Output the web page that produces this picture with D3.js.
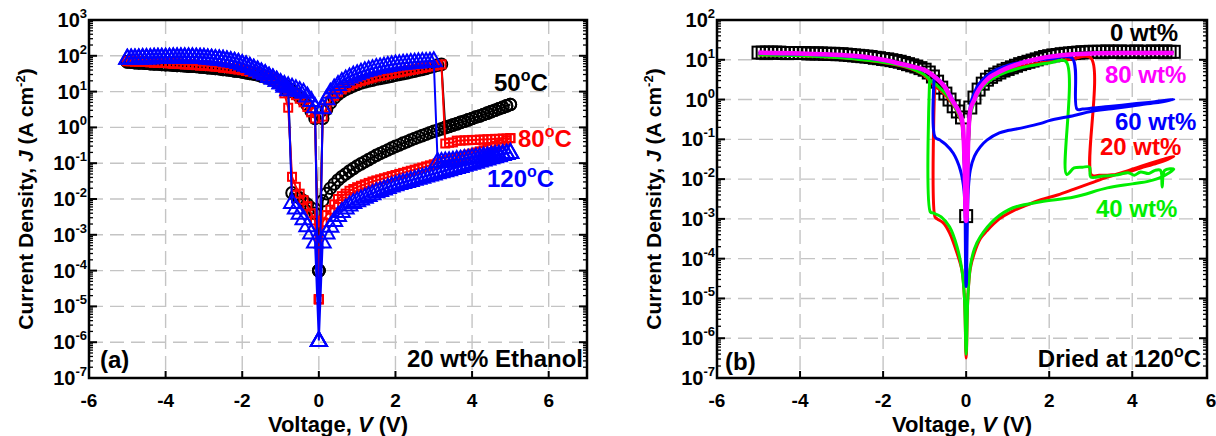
<!DOCTYPE html>
<html>
<head>
<meta charset="utf-8">
<script src="https://cdn.jsdelivr.net/npm/d3@7/dist/d3.min.js"></script>
<style>
    html, body { margin: 0; padding: 0; background: #fff; }
    svg { display: block; font-family: "Liberation Sans", Arial, sans-serif; font-weight: bold; }
</style>
</head>
<body>
<svg id="chart" width="1216" height="436"></svg>
<script>
// ---------- Panel (a): 20 wt% ethanol, log10 J (A cm-2) on a 0.1 V sweep grid ----------
// sweep order: 0 -> +5, +5 -> 0, 0 -> -5, -5 -> 0
const b50FwdPos = [-4.0, 0.25, 0.5, 0.68, 0.82, 0.92, 1.0, 1.06, 1.11, 1.16,
    1.2, 1.24, 1.27, 1.3, 1.32, 1.35, 1.37, 1.39, 1.41, 1.43,
    1.46, 1.48, 1.5, 1.52, 1.55, 1.57, 1.6, 1.62, 1.65, 1.68,
    1.71, 1.74, 1.76, 0.0, 0.03, 0.07, 0.1, 0.14, 0.17, 0.21,
    0.25, 0.29, 0.32, 0.36, 0.4, 0.44, 0.48, 0.52, 0.56, 0.6, 0.64];
const b50BwdPos = [0.64, 0.6, 0.56, 0.52, 0.48, 0.44, 0.4, 0.36, 0.32, 0.29,
    0.25, 0.21, 0.17, 0.14, 0.1, 0.06, 0.03, -0.01, -0.04, -0.08,
    -0.11, -0.15, -0.19, -0.23, -0.27, -0.31, -0.35, -0.4, -0.44, -0.49,
    -0.53, -0.58, -0.63, -0.68, -0.73, -0.78, -0.84, -0.9, -0.96, -1.02,
    -1.08, -1.15, -1.22, -1.3, -1.38, -1.47, -1.58, -1.7, -1.85, -2.05, -4.0];
const b50FwdNeg = [-4.0, -2.4, -2.25, -2.15, -2.05, -1.97, -1.9, -1.83, 1.0, 1.15,
    1.25, 1.3, 1.34, 1.38, 1.41, 1.44, 1.47, 1.49, 1.51, 1.53,
    1.55, 1.57, 1.58, 1.6, 1.61, 1.62, 1.64, 1.65, 1.66, 1.67,
    1.68, 1.69, 1.7, 1.71, 1.71, 1.72, 1.73, 1.73, 1.74, 1.75,
    1.75, 1.76, 1.77, 1.77, 1.78, 1.79, 1.8, 1.8, 1.81, 1.82, 1.83];
const b50BwdNeg = [1.83, 1.82, 1.81, 1.8, 1.8, 1.79, 1.78, 1.77, 1.77, 1.76,
    1.75, 1.75, 1.74, 1.73, 1.73, 1.72, 1.71, 1.71, 1.7, 1.69,
    1.68, 1.67, 1.66, 1.65, 1.64, 1.62, 1.61, 1.6, 1.58, 1.57,
    1.55, 1.53, 1.51, 1.49, 1.47, 1.44, 1.41, 1.38, 1.34, 1.3,
    1.25, 1.18, 1.1, 1.02, 0.94, 0.85, 0.75, 0.62, 0.45, 0.25, -4.0];

const r80FwdPos = [-4.8, 0.3, 0.55, 0.75, 0.88, 0.98, 1.06, 1.12, 1.17, 1.22,
    1.26, 1.3, 1.33, 1.36, 1.39, 1.42, 1.44, 1.46, 1.48, 1.5,
    1.52, 1.54, 1.56, 1.58, 1.6, 1.62, 1.64, 1.66, 1.68, 1.7,
    1.72, 1.74, 1.76, -0.45, -0.43, -0.42, -0.37, -0.37, -0.36, -0.36,
    -0.35, -0.35, -0.34, -0.34, -0.33, -0.33, -0.32, -0.32, -0.31, -0.31, -0.3];
const r80BwdPos = [-0.3, -0.36, -0.42, -0.47, -0.52, -0.56, -0.6, -0.64, -0.67, -0.7,
    -0.73, -0.76, -0.79, -0.82, -0.85, -0.88, -0.91, -0.94, -0.97, -1.0,
    -1.03, -1.06, -1.09, -1.12, -1.15, -1.18, -1.21, -1.24, -1.27, -1.3,
    -1.33, -1.36, -1.39, -1.42, -1.45, -1.48, -1.51, -1.55, -1.59, -1.63,
    -1.67, -1.72, -1.77, -1.85, -1.92, -2.0, -2.15, -2.3, -2.45, -2.65, -4.8];
const r80FwdNeg = [-4.8, -2.6, -2.4, -2.2, -2.03, -1.85, -1.66, -1.38, 0.55, 0.95,
    1.2, 1.28, 1.34, 1.39, 1.44, 1.48, 1.51, 1.54, 1.56, 1.58,
    1.6, 1.62, 1.63, 1.65, 1.66, 1.67, 1.69, 1.7, 1.71, 1.72,
    1.73, 1.73, 1.74, 1.75, 1.76, 1.76, 1.77, 1.78, 1.78, 1.79,
    1.8, 1.8, 1.81, 1.81, 1.82, 1.83, 1.83, 1.84, 1.84, 1.85, 1.85];
const r80BwdNeg = [1.85, 1.85, 1.84, 1.84, 1.83, 1.83, 1.82, 1.81, 1.81, 1.8,
    1.8, 1.79, 1.78, 1.78, 1.77, 1.76, 1.76, 1.75, 1.74, 1.73,
    1.73, 1.72, 1.71, 1.7, 1.69, 1.67, 1.66, 1.65, 1.63, 1.62,
    1.6, 1.58, 1.56, 1.54, 1.51, 1.48, 1.44, 1.39, 1.34, 1.28,
    1.2, 1.12, 1.05, 0.98, 0.9, 0.8, 0.7, 0.57, 0.42, 0.25, -4.8];

const bl120FwdPos = [-5.95, 0.55, 0.8, 0.98, 1.1, 1.2, 1.28, 1.35, 1.41, 1.46,
    1.5, 1.54, 1.58, 1.61, 1.64, 1.67, 1.69, 1.71, 1.73, 1.75,
    1.77, 1.78, 1.79, 1.8, 1.81, 1.82, 1.83, 1.84, 1.84, 1.85,
    1.86, -0.95, -0.95, -0.94, -0.93, -0.92, -0.9, -0.89, -0.87, -0.86,
    -0.84, -0.83, -0.81, -0.8, -0.79, -0.77, -0.76, -0.75, -0.73, -0.72, -0.7];
const bl120BwdPos = [-0.7, -0.73, -0.76, -0.79, -0.82, -0.85, -0.88, -0.91, -0.94, -0.97,
    -1.0, -1.03, -1.06, -1.09, -1.12, -1.15, -1.18, -1.21, -1.24, -1.27,
    -1.3, -1.33, -1.36, -1.39, -1.42, -1.45, -1.48, -1.51, -1.54, -1.57,
    -1.6, -1.64, -1.68, -1.72, -1.76, -1.8, -1.85, -1.9, -1.95, -2.0,
    -2.05, -2.1, -2.17, -2.25, -2.35, -2.46, -2.6, -2.76, -2.95, -3.2, -5.95];
const bl120FwdNeg = [-5.95, -3.2, -2.95, -2.75, -2.55, -2.4, -2.25, -2.1, 1.05, 1.15,
    1.25, 1.32, 1.38, 1.43, 1.5, 1.55, 1.6, 1.65, 1.7, 1.74,
    1.78, 1.81, 1.84, 1.86, 1.88, 1.9, 1.91, 1.92, 1.93, 1.94,
    1.95, 1.95, 1.96, 1.96, 1.96, 1.96, 1.96, 1.96, 1.96, 1.96,
    1.95, 1.95, 1.95, 1.95, 1.94, 1.94, 1.94, 1.94, 1.93, 1.93, 1.93];
const bl120BwdNeg = [1.93, 1.94, 1.94, 1.94, 1.95, 1.95, 1.95, 1.96, 1.96, 1.96,
    1.96, 1.96, 1.97, 1.97, 1.97, 1.97, 1.97, 1.97, 1.96, 1.96,
    1.95, 1.94, 1.93, 1.92, 1.91, 1.9, 1.88, 1.86, 1.84, 1.81,
    1.78, 1.74, 1.7, 1.65, 1.6, 1.55, 1.5, 1.43, 1.38, 1.32,
    1.25, 1.2, 1.16, 1.12, 1.08, 1.03, 0.98, 0.88, 0.75, 0.58, -5.95];

// ---------- Panel (b): dried at 120 C ----------
// 0 wt% (squares), log10 J on the 0.1 V grid, from 0 V outwards
const wt0Pos = [-2.93, -0.2, 0.05, 0.25, 0.4, 0.5, 0.57, 0.63, 0.68, 0.73,
    0.77, 0.81, 0.85, 0.89, 0.92, 0.95, 0.98, 1.01, 1.04, 1.07,
    1.09, 1.11, 1.12, 1.14, 1.15, 1.16, 1.17, 1.18, 1.19, 1.19,
    1.2, 1.2, 1.2, 1.2, 1.21, 1.2, 1.2, 1.21, 1.2, 1.2,
    1.2, 1.21, 1.2, 1.2, 1.2, 1.21, 1.2, 1.2, 1.21, 1.2, 1.2];
const wt0Neg = [-2.93, -0.45, -0.3, -0.17, 0.0, 0.15, 0.3, 0.45, 0.58, 0.68,
    0.75, 0.79, 0.83, 0.86, 0.89, 0.92, 0.95, 0.97, 0.99, 1.01,
    1.02, 1.04, 1.05, 1.07, 1.08, 1.09, 1.1, 1.11, 1.12, 1.13,
    1.14, 1.14, 1.15, 1.15, 1.15, 1.16, 1.16, 1.16, 1.16, 1.17,
    1.17, 1.17, 1.17, 1.17, 1.17, 1.18, 1.18, 1.18, 1.18, 1.18, 1.18];

// line-only series, points read along the sweep
const wt20V = [-5, -4, -3, -2.5, -2, -1.5, -1.2, -1.0, -0.85, -0.75, -0.6, -0.45, -0.3, -0.2, -0.1, 0,
    0.1, 0.2, 0.3, 0.5, 0.7, 1.0, 1.5, 2.0, 2.5, 3.0, 3.02, 3.2, 3.4, 3.8, 4.2, 4.6, 5.0,
    4.6, 4.2, 3.8, 3.4, 3.0, 2.6, 2.2, 1.8, 1.4, 1.13, 0.8, 0.5, 0.34, 0.2, 0.1, 0.04, 0,
    -0.04, -0.1, -0.22, -0.4, -0.55, -0.7, -0.75, -0.76];
const wt20J = [1.12, 1.1, 1.05, 1.0, 0.93, 0.83, 0.72, 0.6, 0.45, 0.33, 0.22, 0.05, -0.15, -0.35, -0.62, -3.0,
    -0.35, 0.0, 0.22, 0.45, 0.58, 0.72, 0.87, 0.96, 1.01, 1.05, -1.9, -1.9, -1.9, -1.85, -1.72, -1.6, -1.43,
    -1.55, -1.68, -1.82, -1.95, -2.1, -2.25, -2.4, -2.52, -2.68, -2.8, -3.0, -3.3, -3.5, -3.85, -4.25, -5.0, -6.5,
    -5.0, -4.3, -3.86, -3.35, -3.1, -3.0, -2.95, 0.33];

const wt40V = [-5, -4, -3, -2.5, -2, -1.5, -1.2, -1.0, -0.88, -0.7, -0.5, -0.35, -0.2, -0.1, 0,
    0.1, 0.2, 0.3, 0.5, 0.7, 1.0, 1.5, 2.0, 2.4, 2.42, 2.6, 2.8, 2.97, 3.0, 3.3, 3.6, 3.9, 4.05, 4.2, 4.4,
    4.55, 4.68, 4.72, 4.78, 5.0, 4.7, 4.4, 4.0, 3.4, 2.6, 1.8, 1.13, 0.7, 0.34, 0.2, 0.1, 0.04, 0,
    -0.04, -0.1, -0.22, -0.4, -0.6, -0.8, -0.86, -0.88];
const wt40J = [1.12, 1.1, 1.05, 1.0, 0.94, 0.84, 0.73, 0.62, 0.5, 0.35, 0.15, -0.05, -0.33, -0.6, -3.0,
    -0.4, -0.05, 0.18, 0.42, 0.56, 0.7, 0.84, 0.92, 0.96, -1.88, -1.72, -1.7, -1.7, -1.95, -1.92, -1.9, -1.84, -1.9, -1.82, -1.86,
    -1.78, -1.78, -2.2, -1.78, -1.75, -1.95, -2.05, -2.12, -2.22, -2.45, -2.57, -2.72, -3.0, -3.45, -3.75, -4.2, -5.0, -6.4,
    -5.0, -4.3, -3.7, -3.2, -2.95, -2.85, -2.83, 0.5];

const wt60V = [-5, -4, -3, -2.5, -2, -1.5, -1.2, -1.0, -0.8, -0.6, -0.4, -0.3, -0.2, -0.1, 0,
    0.1, 0.2, 0.3, 0.5, 0.7, 1.0, 1.5, 2.0, 2.55, 2.67, 2.8, 3.0, 3.5, 4.0, 4.5, 5.0,
    4.5, 4.0, 3.5, 3.0, 2.6, 2.0, 1.8, 1.4, 1.0, 0.8, 0.5, 0.34, 0.2, 0.1, 0.05, 0,
    -0.05, -0.14, -0.31, -0.5, -0.63, -0.75, -0.77];
const wt60J = [1.16, 1.14, 1.1, 1.05, 0.99, 0.89, 0.8, 0.72, 0.62, 0.45, 0.15, -0.05, -0.25, -0.55, -4.7,
    -0.15, 0.18, 0.38, 0.6, 0.74, 0.86, 0.97, 1.02, 1.04, -0.24, -0.24, -0.22, -0.17, -0.11, -0.06, 0.0,
    -0.09, -0.16, -0.23, -0.3, -0.4, -0.53, -0.6, -0.7, -0.78, -0.84, -1.02, -1.19, -1.42, -1.77, -2.3, -4.7,
    -2.3, -1.77, -1.35, -1.12, -1.02, -0.94, 0.55];

const wt80V = [-5, -4, -3, -2.5, -2, -1.5, -1.0, -0.7, -0.5, -0.4, -0.3, -0.2, -0.1, 0,
    0.1, 0.2, 0.26, 0.4, 0.58, 0.8, 1.06, 1.4, 1.8, 2.5, 3.0, 4.0, 5.0];
const wt80J = [1.18, 1.16, 1.12, 1.08, 1.0, 0.88, 0.74, 0.52, 0.3, 0.1, -0.08, -0.25, -0.5, -3.05,
    -0.26, 0.0, 0.16, 0.38, 0.57, 0.7, 0.82, 0.94, 1.04, 1.13, 1.16, 1.17, 1.17];

const xTickValues = [-6, -4, -2, 0, 2, 4, 6];

// ---------- helpers ----------
const svg = d3.select('#chart');

// 0.1 V measurement grid between two end voltages (51 steps)
function sweep(from, to) {
    return d3.range(51).map(i => +(from + (to - from) * i / 50).toFixed(2));
}

function toPoints(vs, js) {
    return vs.map((v, i) => ({v: v, j: Math.pow(10, js[i])}));
}

function drawPanel(cfg) {
    const x = d3.scaleLinear().domain(cfg.xDomain).range([cfg.left, cfg.right]);
    const y = d3.scaleLog().domain([1e-7, Math.pow(10, cfg.topExp)]).range([cfg.bottom, cfg.top]);
    const g = svg.append('g');
    const exps = d3.range(-7, cfg.topExp + 1);

    // grid
    g.selectAll('.hgrid').data(exps.slice(1, -1)).enter().append('line')
        .attr('x1', cfg.left).attr('x2', cfg.right)
        .attr('y1', d => y(Math.pow(10, d))).attr('y2', d => y(Math.pow(10, d)))
        .attr('stroke', '#c4c4c4').attr('stroke-width', 1.4).attr('stroke-dasharray', '14,7');
    g.selectAll('.vgrid').data(xTickValues.filter(d => x(d) > cfg.left + 2 && x(d) < cfg.right - 2)).enter().append('line')
        .attr('y1', cfg.top).attr('y2', cfg.bottom)
        .attr('x1', d => x(d)).attr('x2', d => x(d))
        .attr('stroke', '#c4c4c4').attr('stroke-width', 1.4).attr('stroke-dasharray', '14,7');

    // minor and major y ticks, mirrored on both sides, pointing inwards
    const minor = [];
    exps.slice(0, -1).forEach(e => d3.range(2, 10).forEach(m => minor.push(m * Math.pow(10, e))));
    [[cfg.left, 1], [cfg.right, -1]].forEach(([x0, s]) => {
        g.selectAll(null).data(minor).enter().append('line')
            .attr('x1', x0).attr('x2', x0 + s * 4)
            .attr('y1', d => y(d)).attr('y2', d => y(d))
            .attr('stroke', '#000').attr('stroke-width', 1.3);
        g.selectAll(null).data(exps).enter().append('line')
            .attr('x1', x0).attr('x2', x0 + s * 8)
            .attr('y1', d => y(Math.pow(10, d))).attr('y2', d => y(Math.pow(10, d)))
            .attr('stroke', '#000').attr('stroke-width', 2);
    });
    g.selectAll(null).data(xTickValues.filter(d => d >= cfg.xDomain[0] && d <= cfg.xDomain[1])).enter().append('line')
        .attr('x1', d => x(d)).attr('x2', d => x(d))
        .attr('y1', cfg.bottom).attr('y2', cfg.bottom - 7)
        .attr('stroke', '#000').attr('stroke-width', 2);

    // frame
    g.append('rect')
        .attr('x', cfg.left).attr('y', cfg.top)
        .attr('width', cfg.right - cfg.left).attr('height', cfg.bottom - cfg.top)
        .attr('fill', 'none').attr('stroke', '#000').attr('stroke-width', 2.5);

    // tick labels
    exps.forEach(e => {
        const t = g.append('text')
            .attr('x', cfg.left - 2).attr('y', y(Math.pow(10, e)) + 7)
            .attr('text-anchor', 'end').attr('font-size', 20);
        t.append('tspan').text('10');
        t.append('tspan').attr('dy', -9).attr('font-size', 13).text(e);
    });
    g.selectAll('.xlab').data(xTickValues).enter().append('text')
        .attr('x', d => Math.min(x(d), 1211)).attr('y', 407)
        .attr('text-anchor', 'middle').attr('font-size', 19)
        .text(d => d);

    // axis titles
    const yt = g.append('text')
        .attr('transform', `translate(${cfg.left - 56}, ${(cfg.top + cfg.bottom) / 2}) rotate(-90)`)
        .attr('text-anchor', 'middle').attr('font-size', 21);
    yt.append('tspan').text('Current Density, ');
    yt.append('tspan').attr('font-style', 'italic').text('J');
    yt.append('tspan').text(' (A cm');
    yt.append('tspan').attr('dy', -8).attr('font-size', 13).text('-2');
    yt.append('tspan').attr('dy', 8).text(')');

    const xt = g.append('text')
        .attr('x', (cfg.left + cfg.right) / 2).attr('y', 432)
        .attr('text-anchor', 'middle').attr('font-size', 22);
    xt.append('tspan').text('Voltage, ');
    xt.append('tspan').attr('font-style', 'italic').text('V');
    xt.append('tspan').text(' (V)');

    return {x: x, y: y, g: g};
}

function note(g, x, y, color, parts, anchor) {
    const t = g.append('text').attr('x', x).attr('y', y)
        .attr('fill', color).attr('font-size', 24)
        .attr('text-anchor', anchor || 'start');
    parts.forEach(p => {
        if (p.sup) {
            t.append('tspan').attr('dy', -10).attr('font-size', 16).text(p.sup);
            t.append('tspan').attr('dy', 10).text(p.after);
        } else {
            t.append('tspan').text(p.text);
        }
    });
}

const trianglePath = 'M0,-8.5L8,5.5L-8,5.5Z';

// ---------- panel (a) ----------
const pa = drawPanel({left: 89, right: 587, top: 20, bottom: 378, xDomain: [-6, 7], topExp: 3});

const leftSeries = [
    {color: '#000', shape: 'circle', branches: [b50FwdPos, b50BwdPos, b50FwdNeg, b50BwdNeg]},
    {color: '#f00', shape: 'square', branches: [r80FwdPos, r80BwdPos, r80FwdNeg, r80BwdNeg]},
    {color: '#00f', shape: 'triangle', branches: [bl120FwdPos, bl120BwdPos, bl120FwdNeg, bl120BwdNeg]}
];
const legGrids = [sweep(0, 5), sweep(5, 0), sweep(0, -5), sweep(-5, 0)];

const lineA = d3.line().x(d => pa.x(d.v)).y(d => pa.y(d.j));

leftSeries.forEach(s => {
    let pts = [];
    s.branches.forEach((b, i) => { pts = pts.concat(toPoints(legGrids[i], b)); });
    const sg = pa.g.append('g');
    sg.append('path').datum(pts)
        .attr('d', lineA).attr('fill', 'none')
        .attr('stroke', s.color).attr('stroke-width', 2);
    const m = sg.selectAll('.m').data(pts).enter();
    if (s.shape === 'circle') {
        m.append('circle').attr('cx', d => pa.x(d.v)).attr('cy', d => pa.y(d.j)).attr('r', 5.8)
            .attr('fill', 'none').attr('stroke', s.color).attr('stroke-width', 2);
    } else if (s.shape === 'square') {
        m.append('rect').attr('x', d => pa.x(d.v) - 4).attr('y', d => pa.y(d.j) - 4)
            .attr('width', 8).attr('height', 8)
            .attr('fill', 'none').attr('stroke', s.color).attr('stroke-width', 2);
    } else {
        m.append('path').attr('d', trianglePath)
            .attr('transform', d => `translate(${pa.x(d.v)},${pa.y(d.j)})`)
            .attr('fill', 'none').attr('stroke', s.color).attr('stroke-width', 2);
    }
});

note(pa.g, 494, 91, '#000', [{text: '50'}, {sup: 'o', after: 'C'}]);
note(pa.g, 518, 147, '#f00', [{text: '80'}, {sup: 'o', after: 'C'}]);
note(pa.g, 487, 187, '#00f', [{text: '120'}, {sup: 'o', after: 'C'}]);
note(pa.g, 100, 368, '#000', [{text: '(a)'}]);
note(pa.g, 583, 367, '#000', [{text: '20 wt% Ethanol'}], 'end');

// ---------- panel (b) ----------
const pb = drawPanel({left: 717, right: 1207, top: 20, bottom: 378, xDomain: [-6, 5.8], topExp: 2});

const lineB = d3.line().x(d => pb.x(d.v)).y(d => pb.y(d.j));
const smoothB = d3.line().x(d => pb.x(d.v)).y(d => pb.y(d.j)).curve(d3.curveCatmullRom.alpha(0.5));

// 0 wt% with square markers
const wt0Pts = toPoints(sweep(-5, 0), wt0Neg.slice().reverse()).concat(toPoints(sweep(0, 5), wt0Pos).slice(1));
const g0 = pb.g.append('g');
g0.append('path').datum(wt0Pts).attr('d', lineB).attr('fill', 'none')
    .attr('stroke', '#000').attr('stroke-width', 2);
g0.selectAll('rect').data(wt0Pts).enter().append('rect')
    .attr('x', d => pb.x(d.v) - 6).attr('y', d => pb.y(d.j) - 6)
    .attr('width', 12).attr('height', 12)
    .attr('fill', 'none').attr('stroke', '#000').attr('stroke-width', 2);

const rightLines = [
    {v: wt20V, j: wt20J, color: '#ff0000', width: 3},
    {v: wt40V, j: wt40J, color: '#00ee00', width: 3},
    {v: wt60V, j: wt60J, color: '#0000ff', width: 3},
    {v: wt80V, j: wt80J, color: '#ff00ff', width: 4.5}
];
rightLines.forEach(s => {
    pb.g.append('path').datum(toPoints(s.v, s.j))
        .attr('d', smoothB).attr('fill', 'none')
        .attr('stroke', s.color).attr('stroke-width', s.width)
        .attr('stroke-linejoin', 'round');
});

note(pb.g, 1110, 41, '#000', [{text: '0 wt%'}]);
note(pb.g, 1105, 83, '#ff00ff', [{text: '80 wt%'}]);
note(pb.g, 1115, 130, '#0000ff', [{text: '60 wt%'}]);
note(pb.g, 1100, 155, '#ff0000', [{text: '20 wt%'}]);
note(pb.g, 1096, 217, '#00ee00', [{text: '40 wt%'}]);
note(pb.g, 725, 370, '#000', [{text: '(b)'}]);
note(pb.g, 1201, 367, '#000', [{text: 'Dried at 120'}, {sup: 'o', after: 'C'}], 'end');
</script>
</body>
</html>
